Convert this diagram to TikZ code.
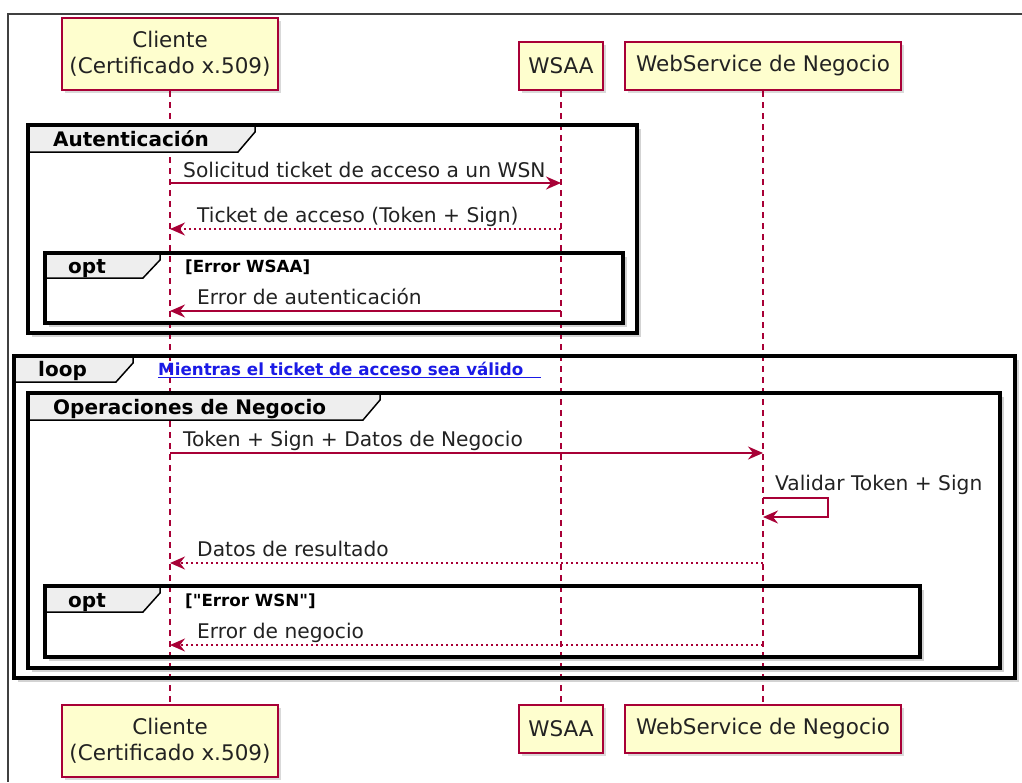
\documentclass[tikz,border=0pt]{standalone}
\usepackage{fontspec}
\setmainfont{DejaVu Sans}
\usetikzlibrary{arrows.meta,shadows}
\definecolor{umlred}{HTML}{A80036}
\definecolor{umlfill}{HTML}{FEFECE}
\definecolor{tabgray}{HTML}{EEEEEE}
\definecolor{linkblue}{HTML}{1A1AE6}
\definecolor{textgray}{HTML}{222222}

\tikzset{
  actor/.style={draw=umlred, line width=2pt, fill=umlfill, align=center, text=textgray,
    font=\fontsize{21.5}{26}\selectfont, inner sep=0pt,
    drop shadow={shadow xshift=3pt, shadow yshift=-3pt, opacity=.3}},
  lifeline/.style={umlred, line width=1.2pt, dash pattern=on 6pt off 5pt},
  msg/.style={umlred, line width=1.8pt, -{Stealth[length=15pt,width=13pt,inset=5pt]}},
  reply/.style={msg, dash pattern=on 2.5pt off 2.5pt},
  msgtext/.style={anchor=base west, font=\fontsize{20.2}{24}\selectfont, text=textgray, inner sep=0pt},
  frameback/.style={fill=white, drop shadow={shadow xshift=4pt, shadow yshift=-4pt, opacity=.35}},
  frameline/.style={draw=black, line width=3.2pt},
  tabline/.style={draw=black, line width=1.5pt},
  tabtext/.style={anchor=base west, font=\bfseries\fontsize{20}{24}\selectfont, inner sep=0pt},
  guard/.style={anchor=base west, font=\bfseries\fontsize{16.7}{20}\selectfont, inner sep=0pt}
}

\begin{document}
\begin{tikzpicture}[x=1pt,y=-1pt]
\useasboundingbox (0,0) rectangle (1022,782);
\draw[black!75, line width=1.2pt] (1022,14) -- (8,14) -- (8,782);

\foreach \xa/\ya/\xb/\yb in {28/125/637/333, 45/253/623/323, 14/356/1015/678, 28/393/1000/668, 45/586/920/657}
  \fill[frameback] (\xa,\ya) rectangle (\xb,\yb);

\node[actor, anchor=south, minimum width=216pt, minimum height=72pt] (cliTop) at (170,91) {Cliente\\(Certificado x.509)};
\node[actor, anchor=south, minimum width=84pt, minimum height=48pt] (wsaaTop) at (561,91) {WSAA};
\node[actor, anchor=south, minimum width=276pt, minimum height=48pt] (wsnTop) at (763,91) {WebService de Negocio};
\node[actor, anchor=north, minimum width=216pt, minimum height=72pt] (cliBot) at (170,704) {Cliente\\(Certificado x.509)};
\node[actor, anchor=north, minimum width=84pt, minimum height=48pt] (wsaaBot) at (561,704) {WSAA};
\node[actor, anchor=north, minimum width=276pt, minimum height=48pt] (wsnBot) at (763,704) {WebService de Negocio};

\draw[lifeline] (cliTop.south) -- (cliBot.north);
\draw[lifeline] (wsaaTop.south) -- (wsaaBot.north);
\draw[lifeline] (wsnTop.south) -- (wsnBot.north);

\foreach \xa/\ya/\xr/\yb in {28/125/255/152, 45/253/160/278, 14/356/133/382, 28/393/380/420, 45/586/160/612} {
  \fill[tabgray] (\xa,\ya) -- (\xr,\ya) -- (\xr,\ya+7) -- (\xr-17,\yb) -- (\xa,\yb) -- cycle;
  \draw[tabline] (\xr,\ya) -- (\xr,\ya+7) -- (\xr-17,\yb) -- (\xa,\yb);
}
\foreach \xa/\ya/\xb/\yb in {28/125/637/333, 45/253/623/323, 14/356/1015/678, 28/393/1000/668, 45/586/920/657}
  \draw[frameline] (\xa,\ya) rectangle (\xb,\yb);

\node[tabtext] (autTab) at (53,146) {Autenticación};
\node[tabtext] (opt1Tab) at (68,273) {opt};
\node[guard] (opt1Guard) at (185,272) {[Error WSAA]};
\node[tabtext] (loopTab) at (38,376) {loop};
\node[guard, text=linkblue] (loopGuard) at (158,375) {Mientras el ticket de acceso sea válido};
\draw[linkblue, line width=1.4pt] ([yshift=-2.5pt]loopGuard.base west) -- ([xshift=17pt,yshift=-2.5pt]loopGuard.base east);
\node[tabtext] (opsTab) at (53,414) {Operaciones de Negocio};
\node[tabtext] (opt2Tab) at (68,607) {opt};
\node[guard] (opt2Guard) at (185,606) {[\textquotedbl Error WSN\textquotedbl]};

\draw[msg] (cliTop.south |- 0,183) -- (wsaaTop.south |- 0,183);
\node[msgtext] (m1) at (183,177) {Solicitud ticket de acceso a un WSN};
\draw[reply] (wsaaTop.south |- 0,229) -- (cliTop.south |- 0,229);
\node[msgtext] (m2) at (197,222) {Ticket de acceso (Token + Sign)};
\draw[msg] (wsaaTop.south |- 0,311) -- (cliTop.south |- 0,311);
\node[msgtext] (m3) at (197,304) {Error de autenticación};
\draw[msg] (cliTop.south |- 0,453) -- (wsnTop.south |- 0,453);
\node[msgtext] (m4) at (183,446) {Token + Sign + Datos de Negocio};
\draw[msg] (wsnTop.south |- 0,498) -- (828,498) -- (828,517) -- (wsnTop.south |- 0,517);
\node[msgtext] (m5) at (775,490) {Validar Token + Sign};
\draw[reply] (wsnTop.south |- 0,563) -- (cliTop.south |- 0,563);
\node[msgtext] (m6) at (197,556) {Datos de resultado};
\draw[reply] (wsnTop.south |- 0,645) -- (cliTop.south |- 0,645);
\node[msgtext] (m7) at (197,638) {Error de negocio};
\end{tikzpicture}
\end{document}
